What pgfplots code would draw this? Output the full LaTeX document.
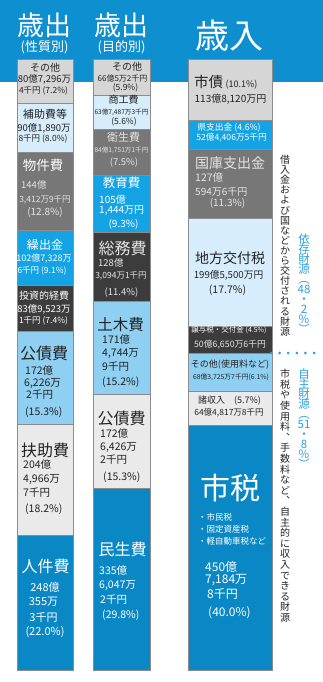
\documentclass[border=0pt]{standalone}
\usepackage{pgfplots}
\pgfplotsset{compat=1.18}
\usepackage{fontspec}
\setmainfont{Noto Sans CJK JP}
\definecolor{hdr}{HTML}{0E8FD0}
\definecolor{cLG}{HTML}{D6D6D6}
\definecolor{cLB}{HTML}{D7EDFB}
\definecolor{cDG}{HTML}{777777}
\definecolor{cBB}{HTML}{14A4E6}
\definecolor{cVD}{HTML}{3C3C3C}
\definecolor{cMB}{HTML}{8FCFF1}
\definecolor{cVL}{HTML}{EAEAEA}
\definecolor{cDB}{HTML}{0A88C5}
\definecolor{tblue}{HTML}{2C9FDB}
\definecolor{tlg}{HTML}{E4E4E4}
\definecolor{tk}{HTML}{222222}
\newcommand\fs[1]{\fontsize{#1}{#1}\selectfont}
\makeatletter
\newcommand\vtext[2]{\vbox{\baselineskip=#1\lineskiplimit=-100pt\lineskip=0pt
  \@tfor\vt@c:=#2\do{\hbox to 1.05em{\hss\vt@c\hss}}}}
\makeatother
\pgfplotsset{colbar/.style={scale only axis, hide axis, height=611pt,
  xmin=-0.5, xmax=0.5, ymin=0, ymax=100, y dir=reverse,
  ybar stacked, bar width=1, clip=false,
  every axis plot/.append style={draw=black!45, line width=0.5pt}}}
\begin{document}
\begin{tikzpicture}[x=1pt,y=-1pt,every node/.style={inner sep=0pt}, k/.style={text=tk}, w/.style={text=white}, g/.style={text=tlg}]
\useasboundingbox (0,0) rectangle (323,682);
\fill[hdr] (0,0) rectangle (323,82);
% column 1: 歳出（性質別）
\begin{axis}[colbar, width=56pt, at={(45pt,-364.5pt)}, anchor=center]
\addplot[fill=cLG] coordinates {(0,7.2)};
\addplot[fill=cLB] coordinates {(0,8.0)};
\addplot[fill=cDG] coordinates {(0,12.8)};
\addplot[fill=cBB] coordinates {(0,9.1)};
\addplot[fill=cVD] coordinates {(0,7.4)};
\addplot[fill=cMB] coordinates {(0,15.3)};
\addplot[fill=cVL] coordinates {(0,18.2)};
\addplot[fill=cDB] coordinates {(0,22.0)};
\end{axis}
% column 2: 歳出（目的別）
\begin{axis}[colbar, width=57pt, at={(121.5pt,-364.5pt)}, anchor=center]
\addplot[fill=cLG] coordinates {(0,5.9)};
\addplot[fill=cLB] coordinates {(0,5.6)};
\addplot[fill=cDG] coordinates {(0,7.5)};
\addplot[fill=cBB] coordinates {(0,9.3)};
\addplot[fill=cVD] coordinates {(0,11.4)};
\addplot[fill=cMB] coordinates {(0,15.2)};
\addplot[fill=cVL] coordinates {(0,15.3)};
\addplot[fill=cDB] coordinates {(0,29.8)};
\end{axis}
% column 3: 歳入
\begin{axis}[colbar, width=84pt, at={(230pt,-364.5pt)}, anchor=center]
\addplot[fill=cLG] coordinates {(0,10.1)};
\addplot[fill=cBB] coordinates {(0,4.6)};
\addplot[fill=cDG] coordinates {(0,11.3)};
\addplot[fill=cLB] coordinates {(0,17.7)};
\addplot[fill=cVD] coordinates {(0,4.5)};
\addplot[fill=cMB] coordinates {(0,6.1)};
\addplot[fill=cVL] coordinates {(0,5.7)};
\addplot[fill=cDB] coordinates {(0,40.0)};
\end{axis}
% headers
\node[w,font=\fs{27}] at (44,25) {歳出};
\node[w,font=\fs{13}] at (44.5,47) {(性質別)};
\node[w,font=\fs{27}] at (121.5,25) {歳出};
\node[w,font=\fs{13}] at (121.5,47) {(目的別)};
\node[w,font=\fs{34}] at (229,36) {歳入};
% column 1 texts
\node[k,font=\fs{10}] at (45,67.5) {その他};
\node[k,font=\fs{9.5}] at (44.5,79) {80億7,296万};
\node[k,font=\fs{8.5}] at (43.5,91) {4千円 (7.2\%)};
\node[k,font=\fs{11}] at (45,114) {補助費等};
\node[k,font=\fs{9.5}] at (44,128) {90億1,890万};
\node[k,font=\fs{8.5}] at (43,139) {8千円 (8.0\%)};
\node[w,font=\fs{13.5}] at (43,165) {物件費};
\node[g,font=\fs{9.5},anchor=west] at (21,185) {144億};
\node[g,font=\fs{8.5}] at (45,200) {3,412万9千円};
\node[g,font=\fs{10}] at (45,212) {(12.8\%)};
\node[w,font=\fs{12}] at (45,245) {繰出金};
\node[w,font=\fs{9}] at (44,259) {102億7,328万};
\node[w,font=\fs{8.5}] at (42,271) {6千円 (9.1\%)};
\node[w,font=\fs{10}] at (44,296) {投資的経費};
\node[w,font=\fs{9.5}] at (44,309) {83億9,523万};
\node[w,font=\fs{8.5}] at (43.5,321) {1千円 (7.4\%)};
\node[k,font=\fs{16}] at (44,353) {公債費};
\node[k,font=\fs{10.5},anchor=west] at (25,371) {172億};
\node[k,font=\fs{10.5},anchor=west] at (24,383) {6,226万};
\node[k,font=\fs{10.5},anchor=west] at (26,395) {2千円};
\node[k,font=\fs{10.5},anchor=west] at (25,412) {(15.3\%)};
\node[k,font=\fs{16}] at (45,450) {扶助費};
\node[k,font=\fs{10.5},anchor=west] at (23,465) {204億};
\node[k,font=\fs{10.5},anchor=west] at (23,479) {4,966万};
\node[k,font=\fs{10.5},anchor=west] at (23,493) {7千円};
\node[k,font=\fs{10.5},anchor=west] at (25,509) {(18.2\%)};
\node[w,font=\fs{16}] at (45.5,566) {人件費};
\node[w,font=\fs{11}] at (45,587) {248億};
\node[w,font=\fs{11}] at (43.5,602) {355万};
\node[w,font=\fs{11}] at (43.5,617) {3千円};
\node[w,font=\fs{11}] at (45,632) {(22.0\%)};
% column 2 texts
\node[k,font=\fs{10}] at (127,67) {その他};
\node[k,font=\fs{8}] at (122.5,78) {66億5万2千円};
\node[k,font=\fs{8.5}] at (125.5,88) {(5.9\%)};
\node[k,font=\fs{10}] at (123.5,100) {商工費};
\node[k,font=\fs{6.6}] at (121.5,112) {63億7,487万3千円};
\node[k,font=\fs{8.5}] at (124,122) {(5.6\%)};
\node[g,font=\fs{11}] at (123.5,137) {衛生費};
\node[g,font=\fs{6.6}] at (121.5,150) {84億1,751万1千円};
\node[g,font=\fs{9.5}] at (124,163) {(7.5\%)};
\node[w,font=\fs{12.5}] at (121.5,183) {教育費};
\node[w,font=\fs{10},anchor=west] at (99,200) {105億};
\node[w,font=\fs{10},anchor=west] at (99,211) {1,444万円};
\node[w,font=\fs{10}] at (123.5,224) {(9.3\%)};
\node[g,font=\fs{16}] at (122.5,248) {総務費};
\node[g,font=\fs{9.5},anchor=west] at (98,263) {128億};
\node[g,font=\fs{8.5}] at (121,276) {3,094万1千円};
\node[g,font=\fs{9.5}] at (121.5,293) {(11.4\%)};
\node[k,font=\fs{15.5}] at (120.5,325) {土木費};
\node[k,font=\fs{10.5},anchor=west] at (102,340) {171億};
\node[k,font=\fs{10.5},anchor=west] at (102,353) {4,744万};
\node[k,font=\fs{10.5},anchor=west] at (102,367) {9千円};
\node[k,font=\fs{10.5},anchor=west] at (102,382) {(15.2\%)};
\node[k,font=\fs{16}] at (121.5,418) {公債費};
\node[k,font=\fs{10.5},anchor=west] at (100,434) {172億};
\node[k,font=\fs{10.5},anchor=west] at (100,447) {6,426万};
\node[k,font=\fs{10.5},anchor=west] at (100,460) {2千円};
\node[k,font=\fs{10.5},anchor=west] at (103,477) {(15.3\%)};
\node[w,font=\fs{16}] at (122.5,549) {民生費};
\node[w,font=\fs{10.5},anchor=west] at (99,571) {335億};
\node[w,font=\fs{10.5},anchor=west] at (99,585) {6,047万};
\node[w,font=\fs{10.5},anchor=west] at (100,600) {2千円};
\node[w,font=\fs{10.5},anchor=west] at (102,615) {(29.8\%)};
% column 3 texts
\node[k,font=\fs{14.5},anchor=west] at (194,82) {市債\,{\fs{9}(10.1\%)}};
\node[k,font=\fs{10}] at (230.5,99) {113億8,120万円};
\node[w,font=\fs{8.8}] at (229,127.5) {県支出金 (4.6\%)};
\node[w,font=\fs{8.6}] at (231.5,137.5) {52億4,406万5千円};
\node[g,font=\fs{14}] at (230,163) {国庫支出金};
\node[g,font=\fs{10.5},anchor=west] at (195,178) {127億};
\node[g,font=\fs{10},anchor=west] at (195,192) {594万6千円};
\node[g,font=\fs{10}] at (227.5,203) {(11.3\%)};
\node[k,font=\fs{14}] at (230,258) {地方交付税};
\node[k,font=\fs{9.7}] at (228.5,275) {199億5,500万円};
\node[k,font=\fs{10.5}] at (227.5,290) {(17.7\%)};
\node[w,font=\fs{7.5}] at (229,330) {譲与税・交付金 {\fs{7}(4.5\%)}};
\node[g,font=\fs{8.8}] at (230,345) {50億6,650万6千円};
\node[k,font=\fs{9}] at (230,365) {その他(使用料など)};
\node[k,font=\fs{6.8}] at (231,377) {68億3,725万7千円(6.1\%)};
\node[k,font=\fs{9}] at (229.5,401) {諸収入\hspace{1em}(5.7\%)};
\node[k,font=\fs{8.5}] at (229,413) {64億4,817万8千円};
\node[w,font=\fs{30}] at (230.5,488) {市税};
\node[w,font=\fs{8.5},anchor=west] at (198,517) {・市民税};
\node[w,font=\fs{8.5},anchor=west] at (198,529) {・固定資産税};
\node[w,font=\fs{8.5},anchor=west] at (198,541) {・軽自動車税など};
\node[w,font=\fs{12},anchor=west] at (205,567) {450億};
\node[w,font=\fs{12},anchor=west] at (205,580) {7,184万};
\node[w,font=\fs{12},anchor=west] at (207,594) {8千円};
\node[w,font=\fs{12},anchor=west] at (208,613) {(40.0\%)};
% right side vertical texts
\node[k,font=\fs{10},anchor=north] at (285,155) {\vtext{10.1pt}{借入金および国などから交付される財源}};
\node[text=tblue,font=\fs{11.5},anchor=north] at (304,234) {\vtext{10pt}{依存財源︵{48}・2\%︶}};
\draw[tblue, line width=3pt, line cap=round, dash pattern=on 0pt off 8.6pt] (271,353) -- (316,353);
\node[k,font=\fs{10},anchor=north] at (285,369) {\vtext{10.6pt}{市税や使用料︑手数料など︑自主的に収入できる財源}};
\node[text=tblue,font=\fs{11.5},anchor=north] at (304,369) {\vtext{10pt}{自主財源︵{51}・8\%︶}};
\end{tikzpicture}
\end{document}
